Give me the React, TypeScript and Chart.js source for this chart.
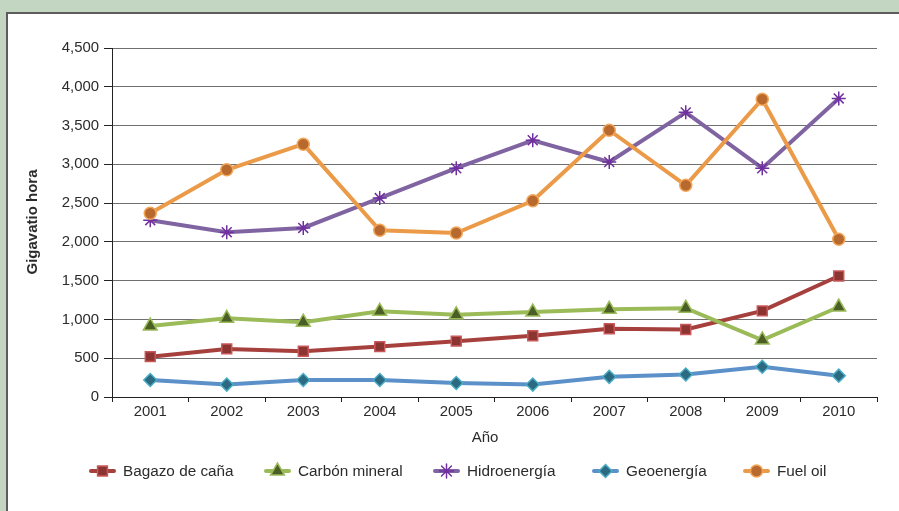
import React, { useEffect, useRef } from "react";
import { Chart, registerables } from "chart.js";
import { drawPoint } from "chart.js/helpers";

Chart.register(...registerables);

const years = ["2001", "2002", "2003", "2004", "2005", "2006", "2007", "2008", "2009", "2010"];
const bagazo = [520, 620, 590, 650, 720, 790, 880, 870, 1110, 1560];
const carbon = [915, 1015, 965, 1105, 1060, 1095, 1130, 1145, 735, 1160];
const hidro = [2280, 2125, 2180, 2565, 2950, 3310, 3030, 3670, 2950, 3850];
const geo = [220, 160, 220, 220, 180, 160, 260, 290, 390, 275];
const fuel = [2370, 2930, 3260, 2150, 2115, 2530, 3440, 2730, 3840, 2035];
const seriesNames = ["Bagazo de caña", "Carbón mineral", "Hidroenergía", "Geoenergía", "Fuel oil"];
const yTitle = "Gigavatio hora";
const xTitle = "Año";

const FONT = "'Liberation Sans', Arial, sans-serif";
const TEXT = "#2b2b2b";

const styles = [
  { line: "#a5403d", fill: "#8c3431", border: "#c9585a", style: "rect", radius: 7 },
  { line: "#9bbb59", fill: "#4b5e26", border: "#9bbb59", style: "triangle", radius: 8 },
  { line: "#8064a2", fill: "#7030a0", border: "#7030a0", style: "star", radius: 7 },
  { line: "#5b90c8", fill: "#2b6a80", border: "#4bacc6", style: "rectRot", radius: 6.5 },
  { line: "#eb9a48", fill: "#b8692d", border: "#f2a65a", style: "circle", radius: 6 },
];
const legendX = [89, 264, 433, 592, 743];

const legendPlugin = {
  id: "customLegendTitles",
  afterDraw(chart: any) {
    const ctx = chart.ctx as CanvasRenderingContext2D;
    ctx.save();
    ctx.fillStyle = TEXT;
    ctx.font = `bold 15px ${FONT}`;
    ctx.textAlign = "center";
    ctx.textBaseline = "middle";
    ctx.save();
    ctx.translate(33, 222);
    ctx.rotate(-Math.PI / 2);
    ctx.fillText(yTitle, 0, 0);
    ctx.restore();
    ctx.font = `15px ${FONT}`;
    ctx.fillText(xTitle, 485, 438);

    ctx.font = `15.3px ${FONT}`;
    ctx.textAlign = "left";
    const y = 471;
    seriesNames.forEach((name, i) => {
      const s = styles[i];
      const x = legendX[i];
      ctx.strokeStyle = s.line;
      ctx.lineWidth = 4;
      ctx.lineCap = "round";
      ctx.beginPath();
      ctx.moveTo(x + 2, y);
      ctx.lineTo(x + 25, y);
      ctx.stroke();
      ctx.fillStyle = s.fill;
      ctx.strokeStyle = s.border;
      ctx.lineWidth = 1.5;
      drawPoint(ctx, { pointStyle: s.style as any, radius: s.radius, rotation: 0, borderWidth: 1.5 }, x + 13.5, y);
      ctx.fillStyle = TEXT;
      ctx.fillText(name, x + 34, y + 1);
    });
    ctx.restore();
  },
};

export default function App() {
  const ref = useRef<HTMLCanvasElement | null>(null);
  useEffect(() => {
    if (!ref.current) return;
    const values = [bagazo, carbon, hidro, geo, fuel];
    const chart = new Chart(ref.current, {
      type: "line",
      data: {
        labels: years,
        datasets: values.map((d, i) => ({
          label: seriesNames[i],
          data: d,
          borderColor: styles[i].line,
          borderWidth: 4,
          pointStyle: styles[i].style as any,
          pointRadius: styles[i].radius,
          pointBackgroundColor: styles[i].fill,
          pointBorderColor: styles[i].border,
          pointBorderWidth: 1.5,
          tension: 0,
          order: 5 - i,
        })),
      },
      options: {
        responsive: false,
        animation: false,
        devicePixelRatio: 1,
        layout: { padding: { left: 0, top: 48, right: 22, bottom: 0 } },
        plugins: { legend: { display: false }, tooltip: { enabled: false }, title: { display: false } },
        scales: {
          x: {
            offset: true,
            grid: { display: true, drawOnChartArea: false, drawTicks: true, tickLength: 5, color: "#222", offset: true },
            border: { display: true, color: "#222", width: 1 },
            ticks: { color: TEXT, font: { family: FONT, size: 14.9 }, padding: 1, maxRotation: 0 },
            afterFit: (s: any) => {
              s.height = 114;
            },
          },
          y: {
            min: 0,
            max: 4500,
            ticks: {
              stepSize: 500,
              color: TEXT,
              font: { family: FONT, size: 14.9 },
              padding: 5,
              callback: (v: any) => Number(v).toLocaleString("en-US"),
            },
            grid: { color: "#707070", lineWidth: 1, tickLength: 8, tickColor: "#222" },
            border: { display: true, color: "#222", width: 1 },
            afterFit: (s: any) => {
              s.width = 112;
            },
          },
        },
      },
      plugins: [legendPlugin],
    });
    return () => chart.destroy();
  }, []);
  return (
    <div style={{ position: "fixed", left: 0, top: 0, width: 899, height: 511, background: "#c3d6c2", overflow: "hidden" }}>
      <div
        style={{
          position: "absolute",
          left: 6,
          top: 12,
          right: 0,
          bottom: 0,
          background: "#ffffff",
          borderLeft: "2px solid #5c5c5c",
          borderTop: "2px solid #5c5c5c",
        }}
      />
      <canvas ref={ref} width={899} height={511} style={{ position: "absolute", left: 0, top: 0 }} />
    </div>
  );
}
